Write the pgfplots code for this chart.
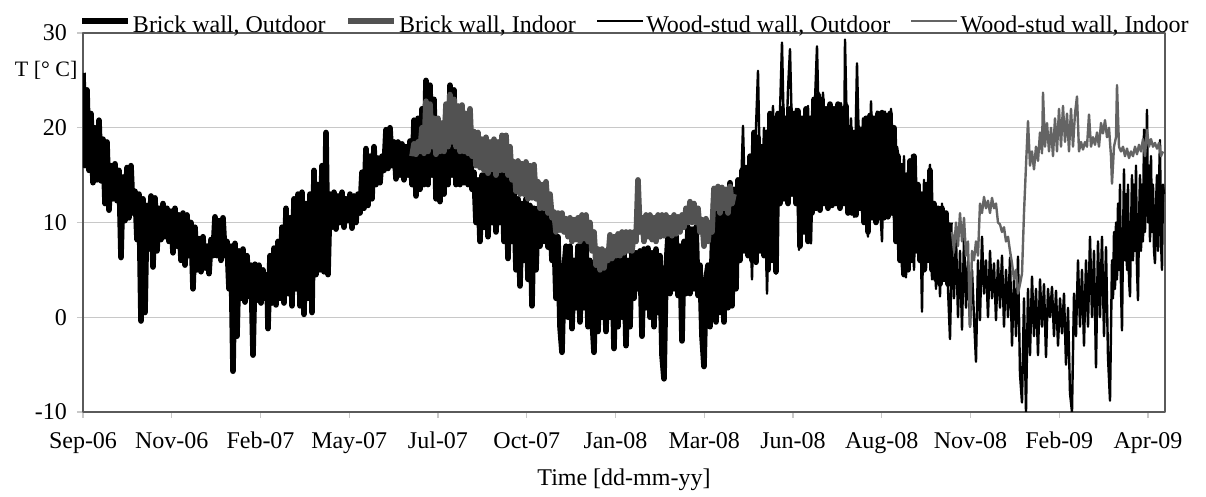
\documentclass[border=0pt]{standalone}
\usepackage{pgfplots}
\pgfplotsset{compat=1.18}
\usepackage{fontspec}
\setmainfont{Liberation Serif}
\definecolor{brickgray}{RGB}{82,82,82}
\definecolor{woodgray}{RGB}{100,100,100}
\definecolor{gridgray}{RGB}{200,200,200}
\definecolor{axisgray}{RGB}{90,90,90}
\begin{document}
\begin{tikzpicture}
\path[use as bounding box] (-41.5pt,-42.5pt) rectangle (561.5pt,206pt);
\begin{axis}[
  scale only axis,
  width=541pt, height=189.5pt,
  at={(0,0)}, anchor=south west,
  xmin=83, xmax=1165, ymin=-10, ymax=30,
  xtick={83,171.75,260.5,349.25,438,526.75,615.5,704.25,793,881.75,970.5,1059.25,1148},
  xticklabels={Sep-06,Nov-06,Feb-07,May-07,Jul-07,Oct-07,Jan-08,Mar-08,Jun-08,Aug-08,Nov-08,Feb-09,Apr-09},
  ytick={-10,0,10,20,30},
  yticklabels={-10,0,10,20,30},
  xtick pos=bottom, ytick pos=left,
  tick align=outside, major tick length=3pt,
  tick style={draw=gridgray, line width=0.6pt},
  ymajorgrids, major grid style={draw=gridgray, line width=0.6pt},
  axis line style={draw=axisgray, line width=0.8pt},
  tick label style={font=\fontsize{12}{14}\selectfont},
  xticklabel style={yshift=-3.5pt},
  yticklabel style={xshift=-1.5pt},
  xlabel={Time [dd-mm-yy]},
  xlabel style={font=\fontsize{12}{14}\selectfont, at={(axis description cs:0.5,-0.1795)}, anchor=center},
  ylabel={T [° C]},
  ylabel style={font=\fontsize{11}{13}\selectfont, rotate=-90, at={(axis description cs:-0.034,0.902)}, anchor=center},
  legend columns=4,
  legend style={at={(0,1)}, anchor=south west, draw=none, fill=none, inner sep=0pt,
    font=\fontsize{12}{14}\selectfont, yshift=-2.5pt, xshift=-2pt,
    nodes={inner xsep=1pt, inner ysep=1pt},
    /tikz/every even column/.append style={column sep=9pt}},
  legend image code/.code={\draw[#1] (0pt,2.25pt) -- (23pt,2.25pt);},
  line join=round,
]
% Brick wall, Outdoor
\addplot[draw=black, line width=2.8pt, line join=round] coordinates {
(83,25.8) (85,16) (87,24) (89,15.5) (91,21.5) (93,14.2) (95,20) (97,14.5) (99,20.8) (101,14.4) (103,18.8) (105,12) (107,18.5) (109,11.3) (111,16) (113,12.5) (115,16.2) (117,12.3) (119,15.5) (121,6.3) (123,14.8) (125,10.2) (127,15.8) (129,10.5) (131,16) (133,11) (135,13.3) (137,8.2) (139,13) (141,-0.4) (143,12.5) (145,0.5) (147,11.8) (149,7.2) (151,12.8) (153,5.3) (155,12.6) (157,7) (159,11.5) (161,8.2) (163,12) (165,8.5) (167,11.5) (169,8) (171,11.2) (173,6.8) (175,11.5) (177,7.5) (179,10.8) (181,6) (183,11) (185,5.5) (187,10.8) (189,6.5) (191,10) (193,3) (195,9.5) (197,5) (199,8.3) (201,4.8) (203,8.5) (205,5.2) (207,7.5) (209,4.6) (211,8.2) (213,6.5) (215,10.6) (217,6.5) (219,10.2) (221,6) (223,10.5) (225,6.5) (227,8) (229,3) (231,7.5) (233,-5.7) (235,7.8) (237,-2) (239,7) (241,2) (243,7.2) (245,1.6) (247,6.5) (249,2.2) (251,5.5) (253,-4) (255,5.6) (257,1.8) (259,5.5) (261,1.5) (263,5) (265,2) (267,4.5) (268,-1.2) (270,6.5) (272,1.5) (274,7.3) (276,1.3) (278,8) (280,2) (282,9.5) (284,1.5) (286,11.5) (288,2.5) (290,10.5) (292,1.2) (294,12.5) (296,3) (298,13) (300,1.2) (302,13.2) (304,0.3) (306,12) (308,2) (310,13) (312,0.5) (314,15.5) (316,4.5) (318,14) (320,5) (322,16) (324,4.8) (326,19.5) (328,4.5) (330,13) (332,9.5) (334,13.2) (336,9.3) (338,12.8) (340,10) (342,13.2) (344,9.5) (346,12.5) (348,10.2) (350,13) (352,9.4) (354,12.8) (356,10) (358,13) (360,11) (362,15.3) (364,11.5) (366,17.8) (368,11.8) (370,17) (372,12.5) (374,18) (376,14) (378,16.8) (380,14.2) (382,17) (384,15.5) (386,19.8) (388,15.7) (390,20) (392,16) (394,18.5) (396,14.6) (398,18.5) (400,15) (402,18.3) (404,14.5) (406,18) (408,15) (410,18.6) (412,14) (414,20.8) (416,12.8) (418,21) (420,13.5) (422,22) (424,14) (426,25) (428,14) (430,24.5) (432,15) (434,23) (436,12.5) (438,20.3) (440,12.2) (442,20) (444,13) (446,22) (448,14) (450,24.5) (452,15) (454,24) (456,14) (458,22) (460,14) (462,20.3) (464,14.2) (466,19.5) (468,14) (470,20.3) (472,13.5) (474,15.3) (476,10) (478,14.5) (480,8) (482,15) (484,9.5) (486,15.3) (488,8.5) (490,15) (492,10) (494,15.5) (496,9) (498,14.8) (500,10) (502,15.8) (504,8) (506,15.5) (508,6.2) (510,14.5) (512,8) (514,13) (516,5) (518,12.5) (520,3.3) (522,12) (524,6) (526,12.5) (528,4) (530,11.8) (532,1.2) (534,11.5) (536,5) (538,11.5) (540,7.5) (542,11.5) (544,8) (546,11) (548,7.4) (550,10.5) (552,6) (554,9) (556,2) (558,8.5) (560,-1) (562,-3.7) (564,5) (566,7.5) (568,0) (570,7.5) (572,-1.2) (574,6) (576,1) (578,7.5) (580,-0.5) (582,8) (584,1) (586,8.3) (588,-1) (590,6) (592,0) (594,-3.7) (596,5.5) (598,-1.5) (600,5.5) (602,0) (604,5) (606,-1.5) (608,6.5) (610,0) (612,7) (614,-3.3) (616,6.5) (618,-1) (620,7) (622,0) (624,7.2) (626,-3) (628,6) (630,-1) (632,7) (634,2) (636,6.8) (638,3) (640,7) (642,-2) (644,7.2) (646,1) (648,7.3) (650,0) (652,6.8) (654,-1) (656,7.2) (658,0.5) (660,6.5) (662,-4) (664,-6.5) (666,5) (668,8.5) (670,2.5) (672,8.2) (674,3) (676,8.6) (678,2.3) (680,7.5) (682,-2.5) (684,8) (686,2.5) (688,9.5) (690,2.5) (692,9.3) (694,3) (696,9.5) (698,2.3) (700,5.5) (702,-2) (704,-5.2) (706,4) (708,5.5) (710,-1) (712,6) (714,12.8) (716,-0.5) (718,12) (720,0.5) (722,13) (724,-0.5) (726,12.5) (728,1) (730,14.2) (732,1.2) (734,13.5) (736,3) (738,14.5) (740,6)
(742,15.5) (744,7) (746,15.8) (748,6.5) (750,17) (752,6) (754,19.5) (756,5.8) (758,19) (760,7) (762,18) (764,6.5) (766,19.5) (768,5) (770,21.5) (772,6) (774,21) (776,4.8) (778,21.5) (780,12) (782,22) (784,12.5) (786,21) (788,12) (790,22) (792,13) (794,21.5) (796,12) (798,21.8) (800,7.5) (802,21) (804,9) (806,22) (808,8) (810,21) (812,11) (814,23) (816,11.5) (818,23.5) (820,11.3) (822,23) (824,12) (826,22) (828,11.5) (830,22.5) (832,11.8) (834,22) (836,12) (838,22.5) (840,11.5) (842,22) (844,12) (846,22.3) (848,11) (850,20) (852,11) (854,19.5) (856,10.8) (858,20) (860,11.5) (862,19.8) (864,10) (866,21) (868,9) (870,21.3) (872,10.5) (874,21) (876,10) (878,21.5) (880,10.5) (882,21.6) (884,10.5) (886,21.3) (888,10.6) (890,21.5) (892,11) (894,20) (896,8) (898,17) (900,6) (902,16) (904,4.5) (906,15)
(908,5) (910,16.5) (912,6) (914,17) (916,7) (918,14) (920,6) (922,13) (924,5) (926,14) (928,6) (930,15.5) (932,5) (934,12) (936,4) (938,11.5) (940,3.5) (942,11.5) (944,4) (946,11) (948,3.5) (950,10)
};
\addlegendentry{Brick wall, Outdoor}
% Brick wall, Indoor
\addplot[draw=brickgray, line width=2.8pt, line join=round] coordinates {
(412,17) (414,18.3) (416,17.2) (418,18.5) (420,17.5) (422,20) (424,17.3) (426,22.8) (428,17.5) (430,22.5) (432,18) (434,21) (436,17.2) (438,21) (440,17.5) (442,20.5) (444,17.5) (446,22.5) (448,18) (450,23.5) (452,18.5) (454,23) (456,18) (458,22.3) (460,17.5) (462,22.4) (464,17.5) (466,21.5) (468,17.3) (470,22) (472,17) (474,19.6) (476,16) (478,19.5) (480,15.8) (482,18.8) (484,15.5) (486,19) (488,15.2) (490,18.5) (492,15.6) (494,18.8) (496,15) (498,18.5) (500,15.5) (502,19.2) (504,15.5) (506,19.2) (508,15) (510,18) (512,14.5) (514,16.4) (516,13.3) (518,16.5) (520,13) (522,16.2) (524,13) (526,16.4) (528,12.5) (530,16) (532,12.6) (534,16.1) (536,12.5) (538,14.3) (540,11.5) (542,14) (544,11.5) (546,14.3) (548,11) (550,13) (552,10.5) (554,11.1) (556,9) (558,11) (560,9.2) (562,11) (564,9) (566,10.4) (568,8.5) (570,10.5) (572,8) (574,10.3) (576,8.2) (578,10.5) (580,8) (582,10.8) (584,8.3) (586,10.8) (588,8) (590,10) (592,7) (594,9) (596,5.5) (598,7.2) (600,5) (602,7.2) (604,5.2) (606,7) (608,6) (610,8.7) (612,6.2) (614,8.5) (616,6.5) (618,8.8) (620,6.5) (622,9) (624,6.8) (626,9) (628,7) (630,9) (632,7) (634,9) (636,8) (638,14.5) (640,9) (642,10.5) (644,8) (646,10.8) (648,8.5) (650,10.8) (652,8.2) (654,10.5) (656,8) (658,10.8) (660,8.5) (662,10.8) (664,8.6) (666,10.8) (668,8.8) (670,10.5) (672,8.6) (674,10.8) (676,8.8) (678,10.6) (680,9) (682,10.8) (684,9.5) (686,11.5) (688,10) (690,12.2) (692,10) (694,12) (696,10) (698,11.5) (700,9) (702,10.3) (704,7.5) (706,10.4) (708,8) (710,10) (712,9) (714,13.6) (716,11.5) (718,13.8) (720,11) (722,13.7) (724,11.5) (726,13.5) (728,11) (730,13.8) (732,12) (734,13)
};
\addlegendentry{Brick wall, Indoor}
% Wood-stud wall, Outdoor
\addplot[draw=black, line width=1.2pt, line join=round] coordinates {
(740,10) (743,20.2) (746,8) (749,16) (752,4) (755,17) (758,26) (761,9) (764,20) (767,2.5) (770,15) (773,22.3) (776,4.6) (779,18) (782,29) (785,14) (788,24) (790,28.3) (793,15) (796,22) (799,7.1) (802,20) (805,12) (808,22.3) (811,7.8) (814,20) (817,28.6) (820,15) (823,23.7) (826,13) (829,22) (832,12) (835,21) (838,14) (841,22.6) (844,15) (845,29.3) (848,14) (851,21) (854,10.6) (857,26.8) (860,13) (863,21) (866,12) (868,8.5) (871,22.8) (874,12) (877,21.7) (880,12) (882,8) (885,21.7) (888,13) (891,22) (894,10.3) (897,18)
(900,16) (902,5) (904,17) (906,4.2) (908,15.5) (910,6) (912,17.1) (914,5) (916,14) (918,7) (920,13) (922,0.6) (924,14.5) (926,5) (928,13) (930,16.1) (932,4) (934,12) (936,3) (938,11.5) (940,2.2) (942,12) (944,4) (946,11) (948,3) (950,-2.3) (952,8) (954,2) (956,8.5) (958,0) (960,7) (962,-1.3) (964,8.4) (966,1) (968,6) (970,-1) (972,5) (974,0) (976,-4.7) (978,6) (980,-0.3) (982,8.5) (984,2.5) (986,6) (988,0) (990,7) (992,2) (994,5.7) (996,-0.3) (998,6) (1000,1) (1002,6.5) (1004,-1) (1006,5) (1008,0) (1010,6.3) (1012,-3) (1014,4) (1016,-2) (1018,6.4) (1020,-6) (1022,-9) (1024,2) (1026,-10) (1028,3) (1030,-4) (1032,4.3) (1034,-2) (1036,3) (1038,-4) (1040,4) (1042,-1) (1044,3.5) (1046,-4.2) (1048,3) (1050,0) (1052,3.2) (1054,-2) (1056,2.8) (1058,-3) (1060,2) (1062,-1.7) (1064,2.5) (1066,-5) (1068,1) (1070,-8) (1072,-10) (1074,2.5) (1076,-2) (1078,6) (1080,-1) (1082,5) (1084,-3) (1086,6) (1088,-1) (1090,8.5) (1092,0) (1094,7) (1096,-5.3) (1098,8) (1100,0) (1102,8.5) (1104,-2) (1106,7.4) (1108,-4.2) (1110,-8.8) (1112,6) (1113,2) (1114,9) (1115,3) (1116,10) (1117,4) (1118,12) (1119,5) (1120,14) (1121,3) (1122,-1.4) (1123,8) (1124,15.6) (1125,6) (1126,13) (1127,5) (1128,14) (1129,4) (1130,2.2) (1131,9) (1132,15) (1133,6) (1134,14) (1135,7) (1136,16) (1137,5) (1138,1.8) (1139,10) (1140,15) (1141,7) (1142,14) (1143,8) (1144,19.8) (1145,9) (1146,15) (1147,21.9) (1148,10) (1149,16) (1150,8) (1151,17) (1152,9) (1153,14) (1154,7) (1155,5.7) (1156,12) (1157,15) (1158,7) (1159,14) (1160,18.7) (1161,8) (1162,5) (1163,14) (1164,13)
};
\addlegendentry{Wood-stud wall, Outdoor}
% Wood-stud wall, Indoor
\addplot[draw=woodgray, line width=1.2pt, line join=round] coordinates {
(952,9) (954,7) (956,10) (958,7.5) (960,11) (962,8) (964,10.5) (966,6.5) (968,8) (970,-1) (972,7) (974,6) (976,8) (978,6.5) (980,12) (982,11) (984,12.7) (986,11.5) (988,12.3) (990,11) (992,12.6) (994,11.5) (996,12) (998,10) (1000,9.8) (1002,9) (1004,9.5) (1006,8) (1008,8.5) (1010,7) (1012,5.7) (1014,4) (1016,5) (1018,2.5) (1020,3.5) (1022,4.6) (1024,11) (1026,16) (1028,20.7) (1030,16) (1032,17.5) (1034,15.6) (1036,18) (1038,16.5) (1040,19.5) (1042,17.3) (1043,23.7) (1045,18) (1047,20.5) (1049,17.5) (1051,20) (1053,17) (1055,21) (1057,17.5) (1059,22) (1061,18) (1063,22.3) (1065,18.5) (1067,21.5) (1069,17.5) (1071,22) (1073,18) (1075,21.5) (1077,23.3) (1079,17.5) (1081,18.5) (1083,17.7) (1085,18.5) (1087,18) (1089,21.4) (1091,18) (1093,19) (1095,18.2) (1097,19.5) (1099,18) (1101,20.5) (1103,19.4) (1105,20.8) (1107,19) (1109,20) (1111,17) (1112,14.1) (1114,18) (1116,19) (1117,24.5) (1119,18) (1121,17.5) (1123,18) (1125,17) (1127,17.8) (1129,16.8) (1131,17.5) (1133,17) (1135,18) (1137,17.2) (1139,18.2) (1141,17.5) (1143,18.8) (1145,17) (1147,19.8) (1149,18) (1151,18.8) (1153,18) (1155,18.4) (1157,17.8) (1159,18.4) (1161,17) (1163,17.5)
};
\addlegendentry{Wood-stud wall, Indoor}
\end{axis}
\end{tikzpicture}
\end{document}
